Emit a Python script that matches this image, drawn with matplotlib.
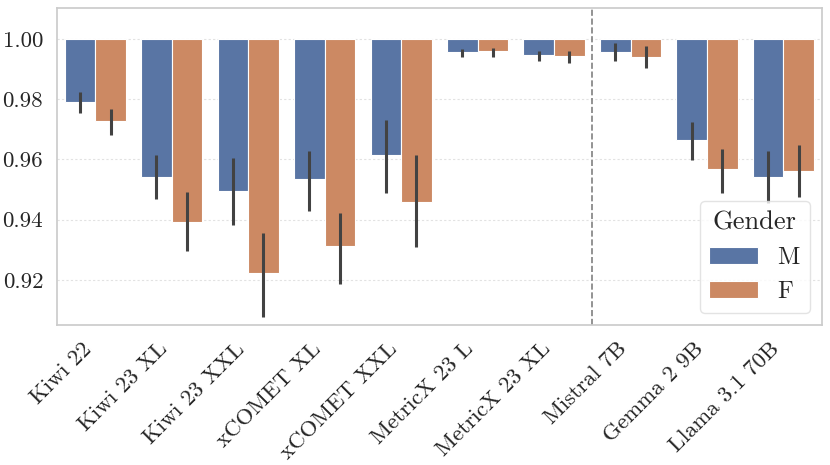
import matplotlib
matplotlib.use('Agg')
import matplotlib.pyplot as plt
import seaborn as sns
import numpy as np

models = ['Kiwi 22', 'Kiwi 23 XL', 'Kiwi 23 XXL', 'xCOMET XL', 'xCOMET XXL',
          'MetricX 23 L', 'MetricX 23 XL', 'Mistral 7B', 'Gemma 2 9B', 'Llama 3.1 70B']

# mean score per gender, plus lower / upper ends of the error bars
male_mean = [0.9792, 0.9542, 0.9495, 0.9534, 0.9615, 0.9958, 0.9947, 0.9958, 0.9666, 0.9542]
male_lo   = [0.9753, 0.9468, 0.9383, 0.9429, 0.9490, 0.9941, 0.9926, 0.9928, 0.9597, 0.9456]
male_hi   = [0.9825, 0.9614, 0.9604, 0.9629, 0.9730, 0.9967, 0.9960, 0.9986, 0.9725, 0.9628]

female_mean = [0.9728, 0.9392, 0.9222, 0.9313, 0.9460, 0.9959, 0.9943, 0.9940, 0.9567, 0.9561]
female_lo   = [0.9680, 0.9295, 0.9076, 0.9187, 0.9309, 0.9941, 0.9920, 0.9904, 0.9490, 0.9474]
female_hi   = [0.9768, 0.9491, 0.9357, 0.9421, 0.9615, 0.9969, 0.9959, 0.9978, 0.9636, 0.9648]

genders = ['M', 'F']

sns.set_theme(style='whitegrid')
plt.rcParams['font.family'] = 'serif'
plt.rcParams['font.serif'] = ['cmr10', 'DejaVu Serif']
plt.rcParams['mathtext.fontset'] = 'cm'
plt.rcParams['axes.formatter.use_mathtext'] = True

fig = plt.figure(figsize=(8.3, 4.65), dpi=100)
ax = fig.add_axes([0.0687, 0.301, 0.9213, 0.682])

colours = ['#5975A4', '#CC8963']
x = np.arange(len(models))
w = 0.4
series = [(male_mean, male_lo, male_hi), (female_mean, female_lo, female_hi)]
for i, (mean, lo, hi) in enumerate(series):
    mean = np.array(mean)
    xs = x + (i - 0.5) * w
    ax.bar(xs, mean - 1.0, bottom=1.0, width=w, color=colours[i],
           edgecolor='white', linewidth=0.8, label=genders[i], zorder=2)
    ax.vlines(xs, lo, hi, color='#424242', linewidth=2.2, zorder=3)

# split between metrics and LLMs
ax.axvline(6.5, color='#808080', linestyle='--', linewidth=1.2, zorder=1)

ax.set_xlim(-0.5, len(models) - 0.5)
ax.set_ylim(0.905, 1.0103)
ax.set_yticks([0.92, 0.94, 0.96, 0.98, 1.00])
ax.set_yticklabels(['0.92', '0.94', '0.96', '0.98', '1.00'])
ax.set_xticks(x)
ax.set_xticklabels(models, rotation=45, ha='right')
ax.tick_params(axis='both', labelsize=16.5, pad=4)
ax.grid(axis='x', visible=False)
ax.grid(axis='y', linestyle=(0, (2, 2)), color='#e2e2e2', linewidth=0.8)
for s in ax.spines.values():
    s.set_color('#cccccc')

leg = ax.legend(title='Gender', loc='lower right', fontsize=17.5, title_fontsize=19,
                frameon=True, fancybox=True)
leg.get_frame().set_edgecolor('#dddddd')

fig.savefig('out.png', dpi=100)
